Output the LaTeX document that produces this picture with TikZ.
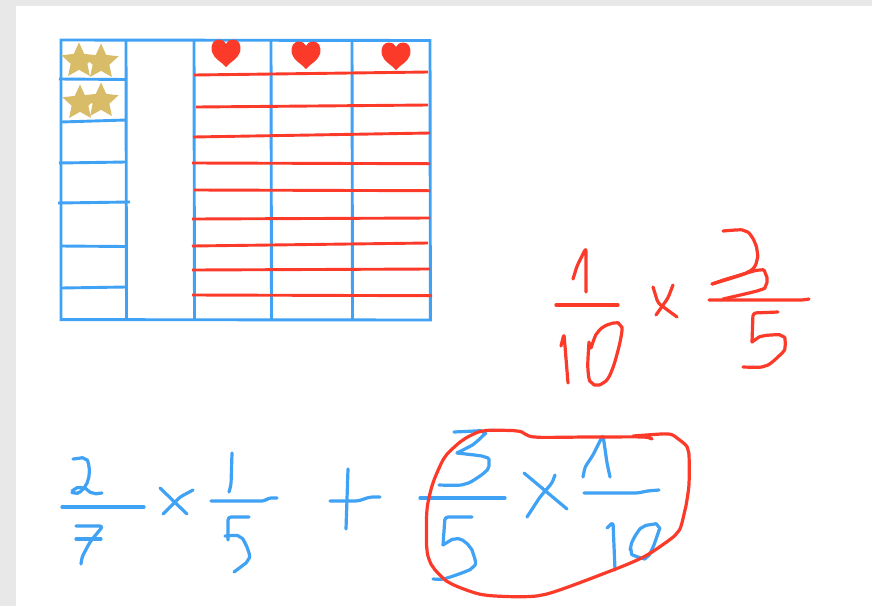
\documentclass[tikz,border=0pt]{standalone}
\definecolor{ink}{HTML}{3FA2F5}
\definecolor{redink}{HTML}{FB3A2A}
\definecolor{stargold}{HTML}{D9BC68}
\definecolor{frame}{HTML}{E8E8E8}
\usetikzlibrary{shapes.geometric}
\tikzset{
 bl/.style={draw=ink,line width=3.2pt,line cap=round,line join=round,rounded corners=3pt},
 rd/.style={draw=redink,line width=3.2pt,line cap=round,line join=round,rounded corners=3pt},
 gridln/.style={draw=ink,line width=2.9pt},
 redln/.style={draw=redink,line width=2.9pt},
 starmark/.style={star,star points=5,star point ratio=2.1,fill=stargold,minimum size=37pt,inner sep=0pt},
 heartmark/.pic={\fill[redink] (0,14) .. controls (-4,9) and (-12,6) .. (-14,-1) .. controls (-16,-9) and (-12,-13.5) .. (-7,-13.5) .. controls (-4,-13.5) and (-1,-12) .. (0,-9) .. controls (1,-12) and (4,-13.5) .. (7,-13.5) .. controls (12,-13.5) and (16,-9) .. (14,-1) .. controls (12,6) and (4,9) .. (0,14) -- cycle;}
}
\begin{document}
\begin{tikzpicture}[x=1pt,y=-1pt]
\useasboundingbox (0,0) rectangle (872,606);
\fill[white] (0,0) rectangle (872,606);
\fill[frame] (0,0) rectangle (872,6);
\fill[frame] (0,0) rectangle (16,606);
% grid
\draw[gridln] (61,40) -- (430,40.5) -- (430.4,320) -- (61,319.6) -- cycle;
\foreach \x in {126,194,271,352} \draw[gridln] (\x,40) -- (\x+0.5,320);
\draw[gridln] (59,79) -- (126,79.5);
\draw[gridln] (61,122) -- (126,120);
\draw[gridln] (59,163) -- (126,162);
\draw[gridln] (58,203) -- (130,202);
\draw[gridln] (60,246) -- (126,246.5);
\draw[gridln] (61,288) -- (126,287);
% red rows
\draw[redln] (194,75) -- (428,72);
\draw[redln] (196,107) -- (428,105);
\draw[redln] (193,137) -- (430,133);
\draw[redln] (192,163) -- (430,163.7);
\draw[redln] (194,190) -- (430,190.7);
\draw[redln] (192,219) -- (430,218);
\draw[redln] (192,246) -- (428,243);
\draw[redln] (192,270) -- (430,269);
\draw[redln] (192,295) -- (432,295.7);
% stars and hearts
\node[starmark] (s1) at (79,61) {};
\node[starmark] (s2) at (101,62) {};
\node[starmark] (s3) at (80,103) {};
\node[starmark] (s4) at (101,101) {};
\pic at (226,53) {heartmark};
\pic at (306,55) {heartmark};
\pic at (396,56) {heartmark};
% red fractions
\draw[rd] (573,279) -- (577,266) -- (586,248) -- (586,292);
\draw[rd] (556,305) -- (618,305);
\draw[rd] (561,346) -- (564,334) -- (568,383);
\draw[rd] plot[smooth,tension=.6] coordinates {(589,342) (588,370) (592,383) (603,383) (612,370) (621,337) (620,325) (610,324) (598,332) (591,348)};
\draw[rd] (653,287) -- (658,303) -- (677,317);
\draw[rd] (673,285) -- (668,298) -- (656,315);
\draw[rd] plot[smooth,tension=.5] coordinates {(723,231) (745,231) (755,243) (757,260) (748,272) (712,284)};
\draw[rd] plot[smooth,tension=.5] coordinates {(712,284) (730,278) (760,270) (766,275) (766,285) (760,290) (723,299)};
\draw[rd] (709,300) -- (803,300) -- (809,299);
\draw[rd] (778,312) -- (753,313) -- (752,342);
\draw[rd] plot[smooth,tension=.5] coordinates {(752,342) (763,336) (782,336) (785,347) (780,355) (765,366) (743,367)};
% blue formula
\draw[bl] plot[smooth,tension=.5] coordinates {(73,459) (85,459) (89,467) (88,480) (82,490) (75,493) (75,489) (83,488) (93,493) (102,493)};
\draw[bl] (62,507) -- (144,507);
\draw[bl] (76,526) -- (103,526) -- (90,542) -- (82,557) -- (81,564);
\draw[bl] (76,539) -- (101,539);
\draw[bl] (160,488) -- (187,514);
\draw[bl] (193,490) -- (180,497) -- (163,514);
\draw[bl] (232,453) -- (231,485) -- (229,492);
\draw[bl] (211,501) -- (265,501) -- (268,498) -- (277,498);
\draw[bl] (249,517) -- (228,517) -- (228,540);
\draw[bl] plot[smooth,tension=.5] coordinates {(225,536) (240,537) (248,550) (248,560) (234,572)};
\draw[bl] (348,469) -- (346,529);
\draw[bl] (330,501) -- (358,501) -- (370,497) -- (380,497);
\draw[bl] plot[smooth,tension=.4] coordinates {(454,432) (483,432) (475,443) (457,453)};
\draw[bl] plot[smooth,tension=.5] coordinates {(457,453) (485,457) (489,463) (485,472) (465,484) (439,485)};
\draw[bl] (420,498) -- (505,498);
\draw[bl] (472,517) -- (445,517) -- (443,545);
\draw[bl] plot[smooth,tension=.5] coordinates {(443,545) (455,539) (465,542) (473,553) (473,567) (447,578) (433,579)};
\draw[bl] (524,473) -- (567,509);
\draw[bl] (555,475) -- (552,483) -- (540,497) -- (527,517);
\draw[bl] (583,477) -- (585,467) -- (593,455) -- (603,435) -- (607,463) -- (610,477);
\draw[bl] (584,493) -- (638,493) -- (647,491) -- (659,490);
\draw[bl] (607,528) -- (613,522) -- (615,570);
\draw[bl] plot[smooth cycle,tension=.5] coordinates {(633,540) (631,552) (638,557) (647,557) (655,542) (658,526) (643,527)};
% red loop
\draw[rd] plot[smooth,tension=.4] coordinates {(652,439) (642,437) (590,437) (535,437) (517,431) (483,431) (463,440) (445,457) (433,483) (427,510) (427,550) (433,567) (450,583) (485,595) (542,595) (613,570) (647,555) (677,533) (685,510) (689,483) (688,450) (677,438) (667,434) (633,436)};
\end{tikzpicture}
\end{document}
